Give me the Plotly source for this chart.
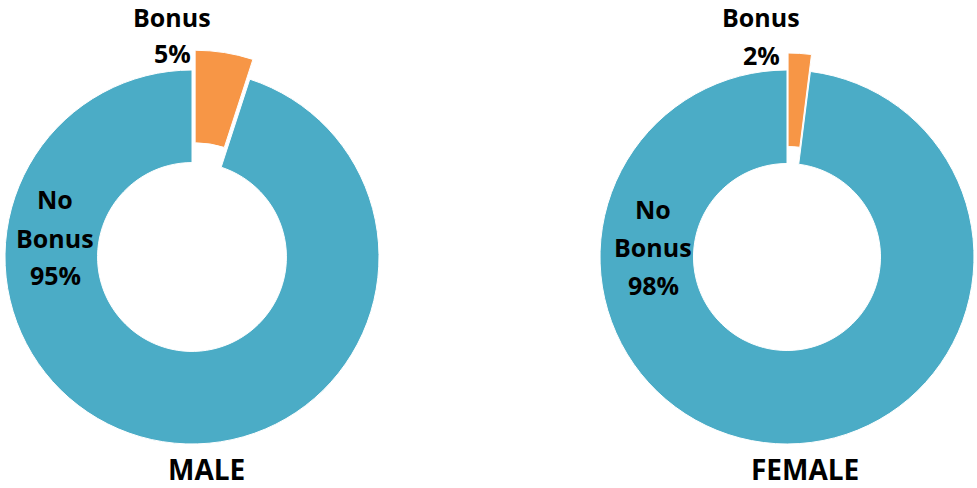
import plotly.graph_objects as go
import math

# ---- data ----
groups = ["MALE", "FEMALE"]
categories = ["Bonus", "No Bonus"]
male_pct = [5, 95]
female_pct = [2, 98]

TEAL = "#4BACC6"
ORANGE = "#F79646"
W, H = 977, 488
FONT = "Open Sans"

# layout geometry (pixels)
geo = [
    dict(cx=192, cy=257, R=187, hole=0.505, pull=20,
         bonus_xy=(172, 17, 53), nob_xy=(55, 199, 238, 275), title_xy=(206, 469)),
    dict(cx=787, cy=257, R=187, hole=0.5, pull=17,
         bonus_xy=(761, 17, 55), nob_xy=(653, 209, 247, 285), title_xy=(805, 469)),
]

fig = go.Figure()
annotations = []

def dom(cx, cy, R):
    return dict(x=[(cx - R) / W, (cx + R) / W], y=[1 - (cy + R) / H, 1 - (cy - R) / H])

for g, vals, gm in zip(groups, [male_pct, female_pct], geo):
    # main ring (No Bonus visible, Bonus slot transparent)
    fig.add_trace(go.Pie(
        values=vals, labels=categories, sort=False, direction="clockwise", rotation=0,
        hole=gm["hole"], textinfo="none", hoverinfo="label+percent",
        marker=dict(colors=["rgba(0,0,0,0)", TEAL],
                    line=dict(color=["rgba(0,0,0,0)", "white"], width=[0, 1])),
        domain=dom(gm["cx"], gm["cy"], gm["R"]), showlegend=False,
    ))
    # exploded Bonus slice: same ring shifted along the slice bisector
    ang = math.radians(360 * vals[0] / sum(vals) / 2)
    dx = gm["pull"] * math.sin(ang)
    dy = -gm["pull"] * math.cos(ang)
    fig.add_trace(go.Pie(
        values=vals, labels=categories, sort=False, direction="clockwise", rotation=0,
        hole=gm["hole"], textinfo="none", hoverinfo="label+percent",
        marker=dict(colors=[ORANGE, "rgba(0,0,0,0)"],
                    line=dict(color=["white", "rgba(0,0,0,0)"], width=[1, 0])),
        domain=dom(gm["cx"] + dx, gm["cy"] + dy, gm["R"]), showlegend=False,
    ))

    def ann(text, x, y, size=25):
        annotations.append(dict(
            text=text, x=x / W, y=1 - y / H, xref="paper", yref="paper",
            xanchor="center", yanchor="middle", showarrow=False,
            font=dict(family=FONT, size=size, color="black", weight="bold"),
        ))

    bx, by1, by2 = gm["bonus_xy"]
    ann(categories[0], bx, by1)
    ann(f"{vals[0]}%", bx, by2)
    nx, ny1, ny2, ny3 = gm["nob_xy"]
    words = categories[1].split(" ")
    ann(words[0], nx, ny1)
    ann(words[1], nx, ny2)
    ann(f"{vals[1]}%", nx, ny3)
    tx, ty = gm["title_xy"]
    ann(g, tx, ty, size=28)

fig.update_layout(
    width=W, height=H, margin=dict(l=0, r=0, t=0, b=0),
    paper_bgcolor="white", plot_bgcolor="white",
    annotations=annotations,
)

fig.write_html("out.html", config={"displayModeBar": False},
               post_script="document.body.style.margin='0';document.body.style.overflow='hidden';")
